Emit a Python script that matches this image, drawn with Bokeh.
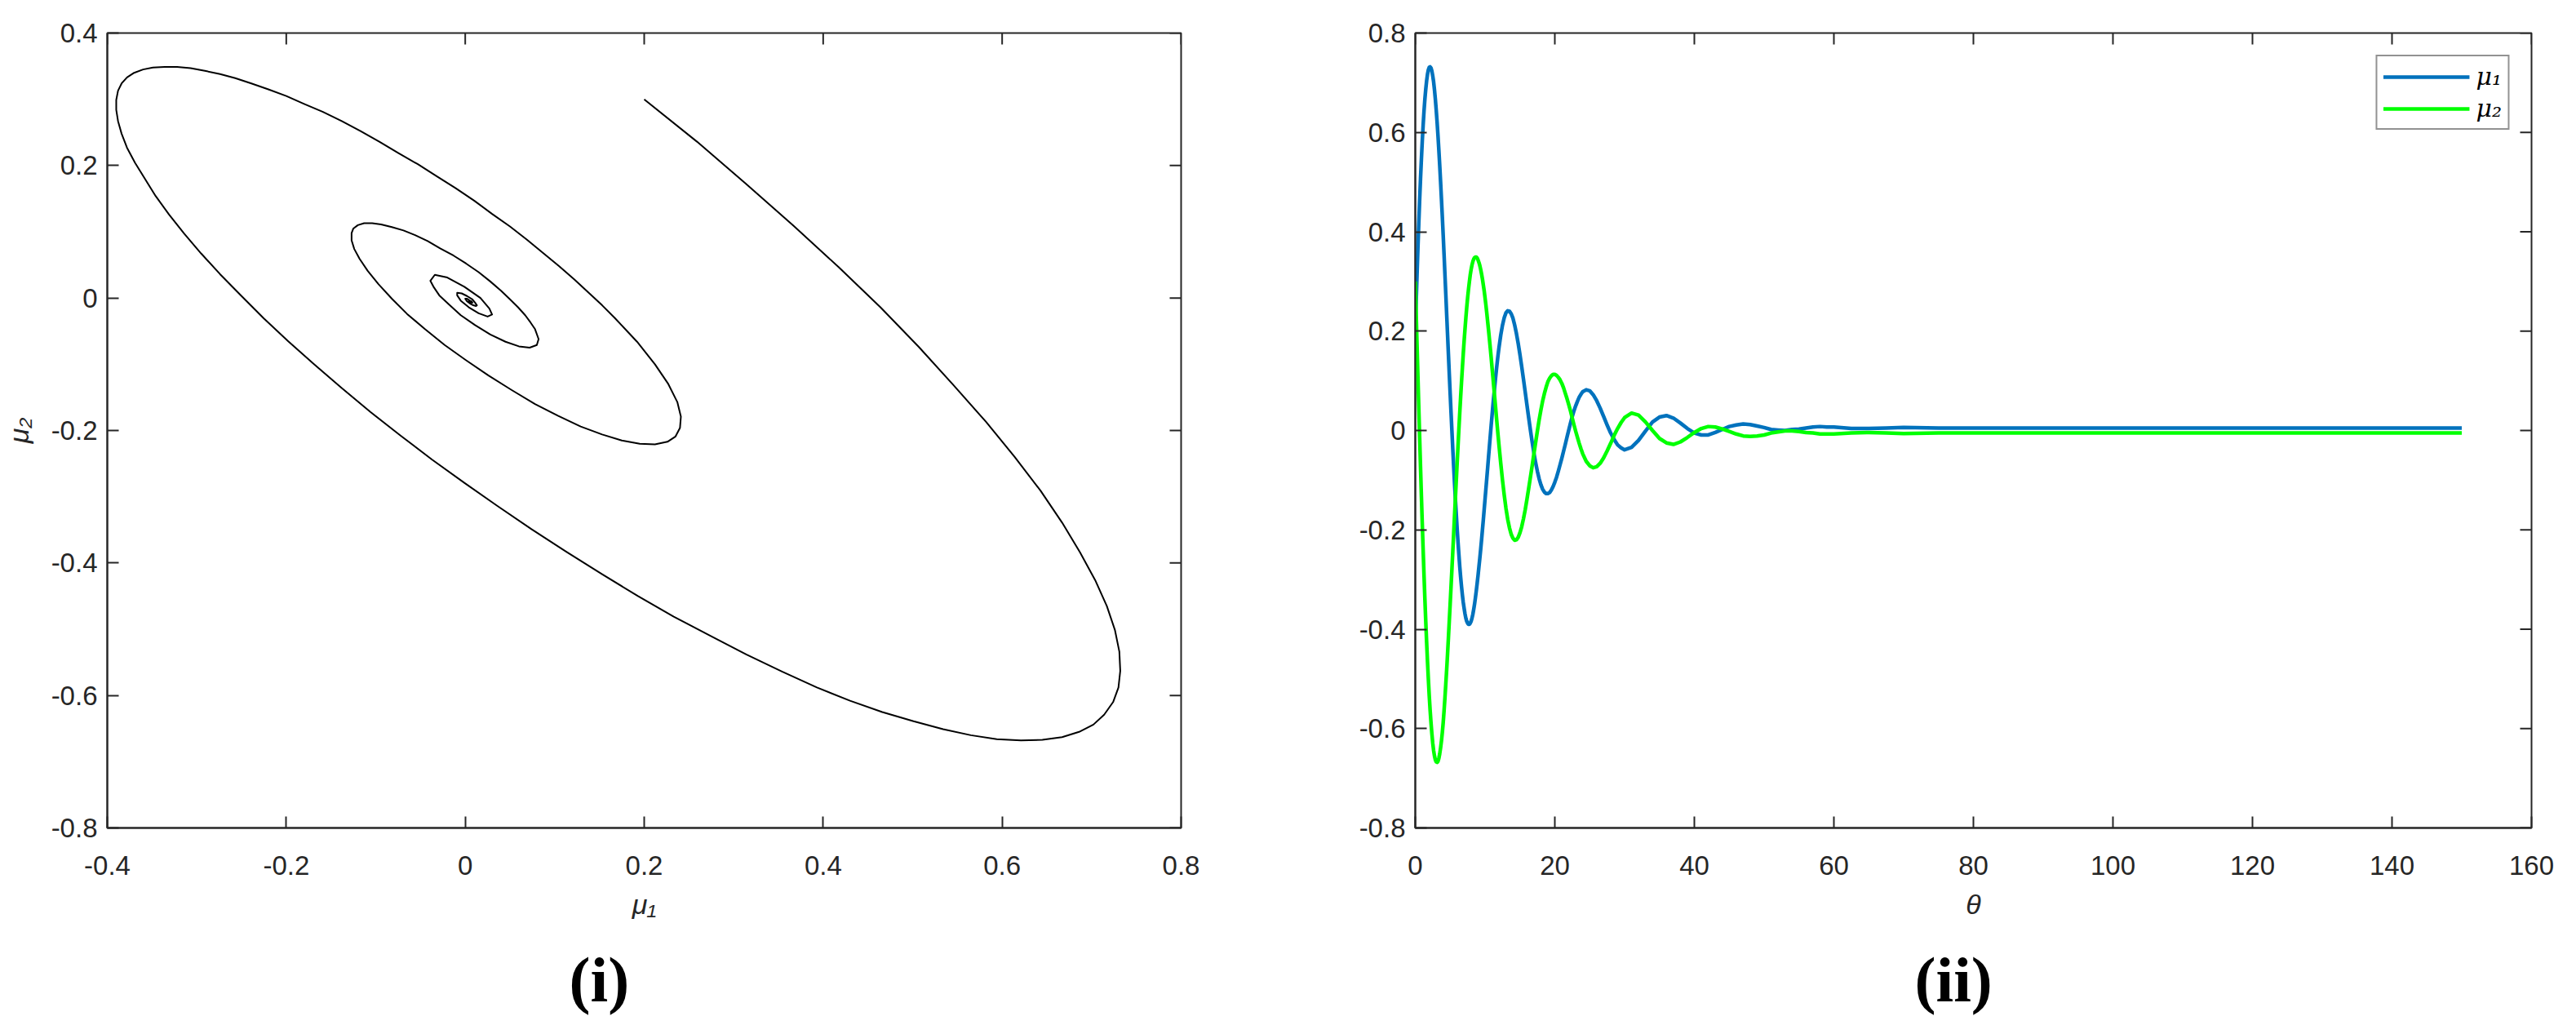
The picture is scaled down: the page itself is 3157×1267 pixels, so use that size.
import math
from bokeh.plotting import figure
from bokeh.models import FixedTicker, Legend, LegendItem, Title
from bokeh.layouts import row
from bokeh.embed import file_html
from bokeh.resources import INLINE

# ---------------- data ----------------
theta = [0, 0.125, 0.25, 0.375, 0.5, 0.625, 0.75, 0.875, 1, 1.125, 1.25, 1.375, 1.5, 1.625,
         1.75, 1.875, 2, 2.125, 2.25, 2.375, 2.5, 2.625, 2.75, 2.875, 3, 3.125, 3.25, 3.375,
         3.5, 3.625, 3.75, 3.875, 4, 4.125, 4.25, 4.375, 4.5, 4.625, 4.75, 4.875, 5, 5.125,
         5.25, 5.375, 5.5, 5.625, 5.75, 5.875, 6, 6.125, 6.25, 6.375, 6.5, 6.625, 6.75, 6.875,
         7, 7.125, 7.25, 7.375, 7.5, 7.625, 7.75, 7.875, 8, 8.125, 8.25, 8.375, 8.5, 8.625,
         8.75, 8.875, 9, 9.125, 9.25, 9.375, 9.5, 9.625, 9.75, 9.875, 10, 10.125, 10.25,
         10.375, 10.5, 10.625, 10.75, 10.875, 11, 11.125, 11.25, 11.375, 11.5, 11.625, 11.75,
         11.875, 12,
         12.25, 12.5, 12.75, 13, 13.25, 13.5, 13.75, 14, 14.25, 14.5, 14.75, 15, 15.25, 15.5,
         15.75, 16, 16.25, 16.5, 16.75, 17, 17.25, 17.5, 17.75, 18, 18.25, 18.5, 18.75, 19,
         19.25, 19.5, 19.75, 20, 20.25, 20.5, 20.75, 21, 21.25, 21.5, 21.75, 22, 22.25, 22.5,
         22.75, 23, 23.25, 23.5, 23.75, 24,
         24.5, 25, 25.5, 26, 26.5, 27, 27.5, 28, 28.5, 29, 29.5, 30,
         31, 32, 33, 34, 35, 36, 37, 38, 39, 40, 41, 42, 43, 44, 45, 46, 47, 48, 49, 50,
         51, 52, 53, 54, 55, 56, 57, 58, 59, 60,
         62.5, 65, 67.5, 70, 75, 80, 90, 100, 110, 120, 130, 140, 150]

mu1 = [0.200, 0.259, 0.314, 0.367, 0.417, 0.464, 0.507, 0.546, 0.582, 0.614, 0.643, 0.667,
       0.687, 0.704, 0.717, 0.726, 0.731, 0.732, 0.730, 0.724, 0.714, 0.702, 0.686, 0.667,
       0.645, 0.621, 0.594, 0.565, 0.534, 0.501, 0.466, 0.430, 0.393, 0.354, 0.314, 0.274,
       0.233, 0.193, 0.153, 0.113, 0.074, 0.036, -0.001, -0.037, -0.072, -0.106, -0.138,
       -0.169, -0.198, -0.225, -0.250, -0.274, -0.295, -0.314, -0.331, -0.346, -0.358,
       -0.369, -0.378, -0.384, -0.388, -0.390, -0.390, -0.388, -0.384, -0.378, -0.370,
       -0.360, -0.349, -0.336, -0.322, -0.307, -0.291, -0.274, -0.257, -0.239, -0.220,
       -0.200, -0.180, -0.159, -0.138, -0.117, -0.096, -0.075, -0.053, -0.032, -0.011,
       0.010, 0.030, 0.050, 0.069, 0.087, 0.105, 0.122, 0.138, 0.153, 0.167,
       0.192, 0.212, 0.227, 0.237, 0.241, 0.240, 0.235, 0.226, 0.212, 0.195, 0.175, 0.153,
       0.129, 0.104, 0.078, 0.052, 0.026, 0.001, -0.023, -0.045, -0.065, -0.082, -0.097,
       -0.109, -0.118, -0.124, -0.127, -0.127, -0.125, -0.120, -0.113, -0.104, -0.094,
       -0.082, -0.069, -0.056, -0.042, -0.028, -0.013, 0.001, 0.015, 0.028, 0.040, 0.050,
       0.059, 0.067, 0.073, 0.078,
       0.082, 0.080, 0.072, 0.060, 0.045, 0.028, 0.011, -0.005, -0.018, -0.029, -0.035, -0.039,
       -0.034, -0.020, -0.001, 0.017, 0.027, 0.030, 0.025, 0.015, 0.004, -0.005, -0.009,
       -0.009, -0.004, 0.002, 0.008, 0.011, 0.013, 0.012, 0.009, 0.006, 0.002, 0.001, 0.000,
       0.002, 0.003, 0.005, 0.007, 0.008, 0.007, 0.007,
       0.004, 0.004, 0.005, 0.006, 0.005, 0.005, 0.005, 0.005, 0.005, 0.005, 0.005, 0.005, 0.005]

mu2 = [0.300, 0.236, 0.172, 0.109, 0.047, -0.014, -0.074, -0.132, -0.187, -0.240, -0.291,
       -0.339, -0.384, -0.426, -0.465, -0.501, -0.534, -0.563, -0.588, -0.610, -0.629,
       -0.644, -0.655, -0.663, -0.667, -0.668, -0.666, -0.660, -0.651, -0.639, -0.625,
       -0.608, -0.588, -0.564, -0.538, -0.510, -0.481, -0.450, -0.417, -0.383, -0.349,
       -0.314, -0.279, -0.244, -0.208, -0.172, -0.136, -0.100, -0.065, -0.031, 0.003, 0.036,
       0.067, 0.097, 0.126, 0.154, 0.180, 0.204, 0.227, 0.248, 0.267, 0.284, 0.299, 0.313,
       0.324, 0.333, 0.340, 0.345, 0.348, 0.349, 0.349, 0.347, 0.343, 0.338, 0.332, 0.324,
       0.315, 0.305, 0.293, 0.281, 0.267, 0.252, 0.236, 0.219, 0.202, 0.184, 0.166, 0.147,
       0.127, 0.108, 0.088, 0.068, 0.048, 0.028, 0.008, -0.011, -0.030,
       -0.066, -0.100, -0.130, -0.157, -0.179, -0.196, -0.209, -0.217, -0.221, -0.220,
       -0.215, -0.206, -0.194, -0.178, -0.160, -0.139, -0.117, -0.094, -0.071, -0.047,
       -0.024, -0.001, 0.021, 0.041, 0.059, 0.074, 0.087, 0.098, 0.105, 0.110, 0.113, 0.113,
       0.111, 0.107, 0.102, 0.095, 0.086, 0.075, 0.064, 0.052, 0.039, 0.025, 0.011, -0.002,
       -0.014, -0.026, -0.037, -0.047,
       -0.062, -0.071, -0.075, -0.073, -0.066, -0.055, -0.041, -0.026, -0.010, 0.004, 0.016, 0.026,
       0.035, 0.031, 0.017, 0.000, -0.016, -0.025, -0.028, -0.023, -0.014, -0.004, 0.004,
       0.008, 0.007, 0.003, -0.002, -0.007, -0.011, -0.012, -0.011, -0.009, -0.005, -0.003,
       -0.001, -0.001, -0.002, -0.004, -0.005, -0.007, -0.007, -0.007,
       -0.005, -0.004, -0.005, -0.006, -0.005, -0.005, -0.005, -0.005, -0.005, -0.005, -0.005,
       -0.005, -0.005]

phase_x_range = [-0.4, 0.8]
phase_y_range = [-0.8, 0.4]
time_x_range = [0, 160]
time_y_range = [-0.8, 0.8]
phase_x_ticks = [-0.4, -0.2, 0, 0.2, 0.4, 0.6, 0.8]
phase_x_labels = ["-0.4", "-0.2", "0", "0.2", "0.4", "0.6", "0.8"]
phase_y_ticks = [-0.8, -0.6, -0.4, -0.2, 0, 0.2, 0.4]
phase_y_labels = ["-0.8", "-0.6", "-0.4", "-0.2", "0", "0.2", "0.4"]
time_x_ticks = [0, 20, 40, 60, 80, 100, 120, 140, 160]
time_x_labels = ["0", "20", "40", "60", "80", "100", "120", "140", "160"]
time_y_ticks = [-0.8, -0.6, -0.4, -0.2, 0, 0.2, 0.4, 0.6, 0.8]
time_y_labels = ["-0.8", "-0.6", "-0.4", "-0.2", "0", "0.2", "0.4", "0.6", "0.8"]
series_names = ["μ₁", "μ₂"]
captions = ["(i)", "(ii)"]

AXIS = "#262626"
FONT = "Liberation Sans"
TICK_LEN = 14


def style_axis(ax, ticks, labels, standoff):
    ax.ticker = FixedTicker(ticks=ticks)
    ax.major_label_overrides = {t: l for t, l in zip(ticks, labels)}
    ax.axis_line_color = AXIS
    ax.axis_line_width = 2
    ax.major_tick_line_color = AXIS
    ax.major_tick_line_width = 2
    ax.major_tick_in = TICK_LEN
    ax.major_tick_out = 0
    ax.minor_tick_line_color = None
    ax.major_label_text_font = FONT
    ax.major_label_text_color = AXIS
    ax.major_label_text_font_size = "33px"
    ax.major_label_standoff = standoff
    ax.axis_label_text_font = FONT
    ax.axis_label_text_font_style = "italic"
    ax.axis_label_text_font_size = "34px"
    ax.axis_label_text_color = AXIS


def make_fig(xr, yr, frame_w, border_l, border_r):
    p = figure(x_range=tuple(xr), y_range=tuple(yr), frame_width=frame_w, frame_height=974,
               min_border_left=border_l, min_border_right=border_r,
               min_border_top=40, min_border_bottom=236,
               output_backend="svg", toolbar_location=None)
    p.xgrid.visible = False
    p.ygrid.visible = False
    p.outline_line_color = AXIS
    p.outline_line_width = 2
    p.background_fill_color = "white"
    p.border_fill_color = "white"
    return p


def box_ticks(p, xr, yr, xt, yt):
    # inward tick marks on the top and right edges of the box
    p.ray(x=xt, y=[yr[1]] * len(xt), length=TICK_LEN, length_units="screen",
          angle=-math.pi / 2, line_color=AXIS, line_width=2)
    p.ray(x=[xr[1]] * len(yt), y=yt, length=TICK_LEN, length_units="screen",
          angle=math.pi, line_color=AXIS, line_width=2)


def caption(p, text, offset):
    p.add_layout(Title(text=text, align="left", offset=offset, standoff=50,
                       text_font="Liberation Serif", text_font_style="bold",
                       text_font_size="78px", text_color="black"), "below")


# ---------------- (i) phase portrait ----------------
p1 = make_fig(phase_x_range, phase_y_range, 1316, 129, 40)
p1.line(mu1, mu2, line_color="black", line_width=2, line_join="round")
style_axis(p1.below[0], phase_x_ticks, phase_x_labels, 34)
style_axis(p1.left[0], phase_y_ticks, phase_y_labels, 12)
box_ticks(p1, phase_x_range, phase_y_range, phase_x_ticks, phase_y_ticks)
p1.below[0].axis_label = series_names[0]
p1.left[0].axis_label = series_names[1]
p1.below[0].axis_label_standoff = 14
p1.left[0].axis_label_standoff = 18
caption(p1, captions[0], 566)

# ---------------- (ii) time series ----------------
p2 = make_fig(time_x_range, time_y_range, 1368, 247, 40)
r1 = p2.line(theta, mu1, line_color="#0072BD", line_width=4.5, line_join="round")
r2 = p2.line(theta, mu2, line_color="#00FF00", line_width=4.5, line_join="round")
style_axis(p2.below[0], time_x_ticks, time_x_labels, 34)
style_axis(p2.left[0], time_y_ticks, time_y_labels, 12)
box_ticks(p2, time_x_range, time_y_range, time_x_ticks, time_y_ticks)
p2.below[0].axis_label = "θ"
p2.below[0].axis_label_standoff = 14
legend = Legend(items=[LegendItem(label=series_names[0], renderers=[r1]),
                       LegendItem(label=series_names[1], renderers=[r2])],
                location="top_right", margin=27, padding=7, spacing=4,
                glyph_width=106, glyph_height=34, label_height=34, label_standoff=8,
                label_text_font="DejaVu Serif", label_text_font_style="italic",
                label_text_font_size="30px", label_text_color="black",
                border_line_color=AXIS, border_line_width=2,
                background_fill_color="white", background_fill_alpha=1)
p2.add_layout(legend)
caption(p2, captions[1], 612)

layout = row(p1, p2)
open("out.html", "w").write(file_html(layout, INLINE))
